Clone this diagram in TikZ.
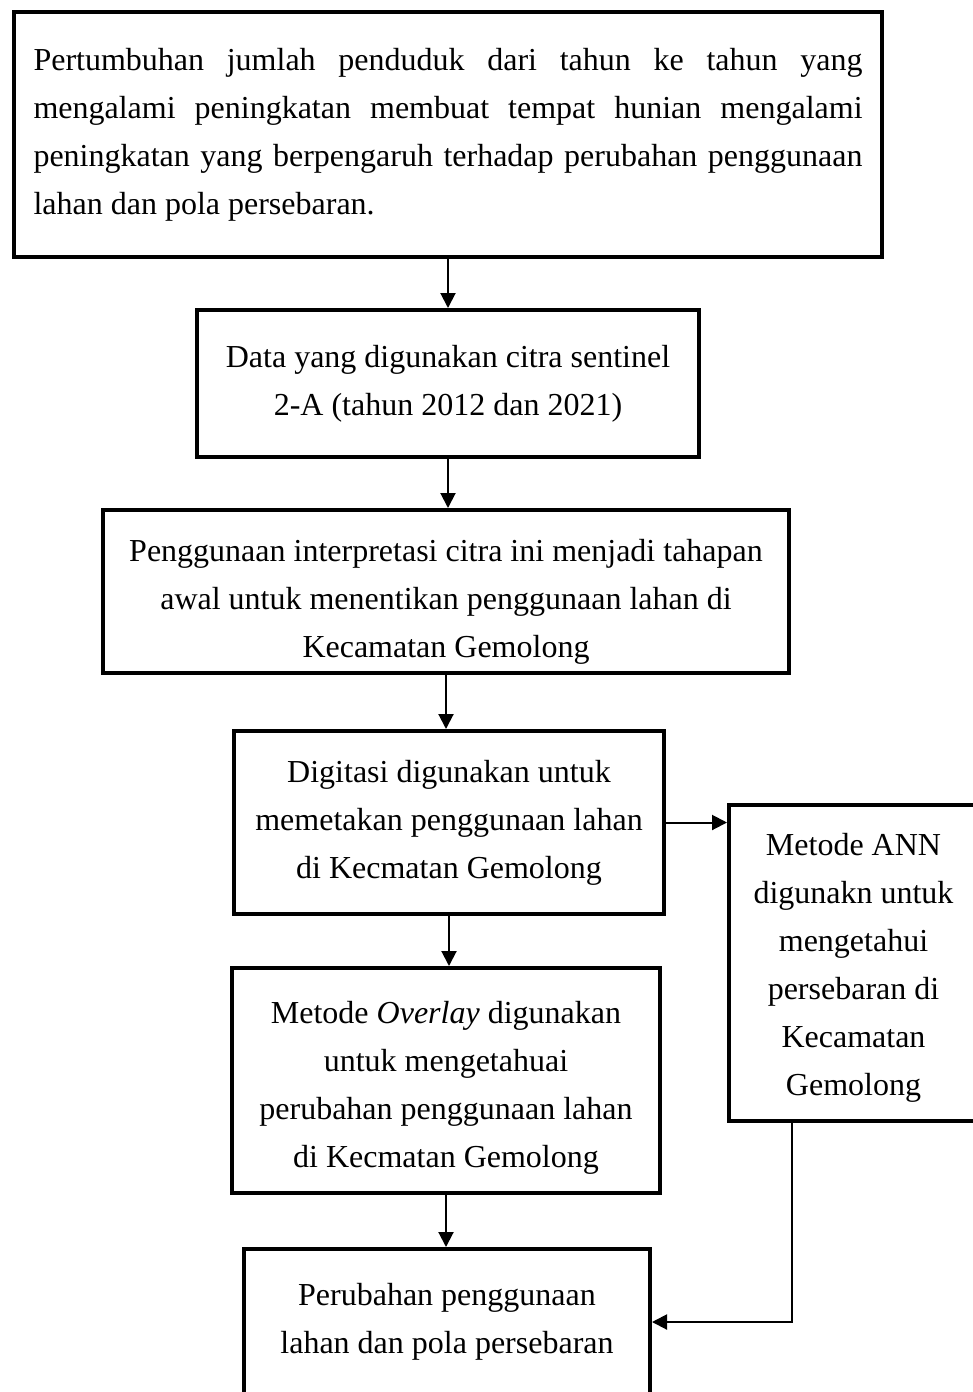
\documentclass[tikz,border=0pt]{standalone}
\usepackage{fontspec}
\setmainfont{Liberation Serif}
\usetikzlibrary{arrows.meta}
\usetikzlibrary{positioning}

% invisible strut that pushes a box's text down
\newcommand{\dropby}[1]{\rule{0pt}{#1}}

\begin{document}
\begin{tikzpicture}[x=1pt,y=-1pt,>={Triangle[length=15pt,width=15pt]}]
		\tikzset{box/.style = {shape=rectangle, draw, line width=4pt, align=center, inner sep=0pt, font=\fontsize{32}{48}\selectfont},
			boxtext/.style = {align=center, inner sep=0pt, font=\fontsize{32}{48}\selectfont},
			flow/.style = {->, line width=2pt}}
		\useasboundingbox (0,0) rectangle (973,1392);
		\clip (0,0) rectangle (973,1392);
		\node[box, minimum width=868pt, minimum height=245pt, text width=829pt, align=justify] (MASALAH) at (448,134.5)
		{Pertumbuhan jumlah penduduk dari tahun ke tahun yang\linebreak
			mengalami peningkatan membuat tempat hunian mengalami\linebreak
			peningkatan yang berpengaruh terhadap perubahan penggunaan\linebreak
			lahan dan pola persebaran.};
		\node[box, minimum width=502pt, minimum height=147pt] (DATA) at (448,383.5)
		{Data yang digunakan citra sentinel \\
			2-A (tahun 2012 dan 2021)};
		\node[box, minimum width=686pt, minimum height=163pt] (INTERPRETASI) at (446,591.5)
		{\dropby{42pt}Penggunaan interpretasi citra ini menjadi tahapan \\
			awal untuk menentikan penggunaan lahan di \\
			Kecamatan Gemolong};
		\node[box, minimum width=430pt, minimum height=183pt] (DIGITASI) at (449,822.5)
		{Digitasi digunakan untuk \\
			memetakan penggunaan lahan \\
			di Kecmatan Gemolong};
		\node[box, minimum width=249pt, minimum height=316pt] (ANN) at (853.5,963)
		{\dropby{32pt}Metode ANN \\
			digunakn untuk \\
			mengetahui \\
			persebaran di \\
			Kecamatan \\
			Gemolong};
		\node[box, minimum width=428pt, minimum height=225pt] (OVERLAY) at (446,1080.5)
		{\dropby{36pt}Metode \textit{Overlay} digunakan \\
			untuk mengetahuai \\
			perubahan penggunaan lahan \\
			di Kecmatan Gemolong};
		\node[box, minimum width=406pt, minimum height=180pt, anchor=north] (HASIL) at (447,1247) {};
		\node[boxtext, below=36pt of HASIL.north] (HASILTEXT)
		{Perubahan penggunaan \\
			lahan dan pola persebaran};
		
		\draw[flow] (MASALAH.south) -- (MASALAH.south |- DATA.north);
		\draw[flow] (DATA.south) -- (DATA.south |- INTERPRETASI.north);
		\draw[flow] (INTERPRETASI.south) -- (INTERPRETASI.south |- DIGITASI.north);
		\draw[flow] (DIGITASI.south) -- (DIGITASI.south |- OVERLAY.north);
		\draw[flow] (OVERLAY.south) -- (OVERLAY.south |- HASIL.north);
		\draw[flow] (DIGITASI.east) -- (DIGITASI.east -| ANN.west);
		\draw[flow] ([xshift=-61.5pt]ANN.south) |- ([yshift=17pt]HASIL.east);
		
\end{tikzpicture}
\end{document}
